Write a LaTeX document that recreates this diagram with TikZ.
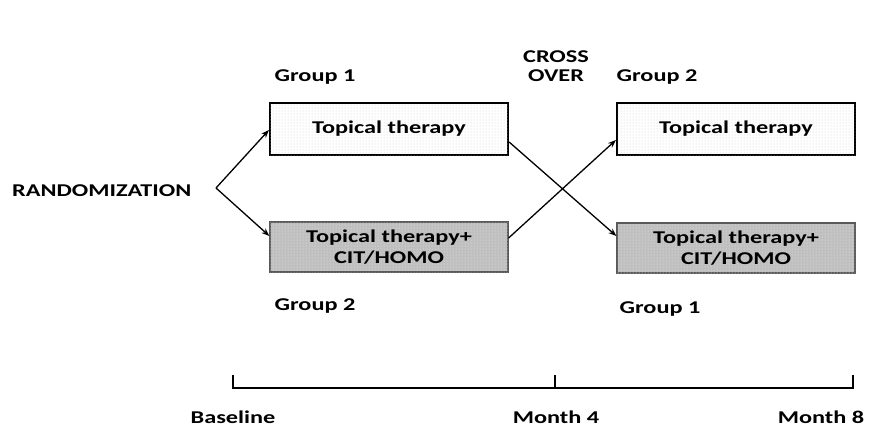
\documentclass[tikz,border=0pt]{standalone}
\usepackage{fontspec}
\setmainfont{Carlito}
\newfontfamily\widefont[FakeStretch=1.35]{Carlito}
\usetikzlibrary{arrows.meta,patterns}
\begin{document}
\begin{tikzpicture}[x=1pt,y=-1pt,
  lbl/.style={font=\widefont\bfseries\fontsize{18}{21}\selectfont, inner sep=0pt},
  whitebox/.style={draw=black, line width=2.2pt, fill=white, minimum width=238pt, minimum height=52pt,
     postaction={pattern=dots, pattern color=gray!40}},
  graybox/.style={draw=gray!70!black, line width=1.2pt, fill=gray!50, minimum width=238pt, minimum height=50pt,
     postaction={pattern=dots, pattern color=white!85!gray}},
  arr/.style={-{Stealth[length=8pt,width=6pt]}, line width=1.3pt}
]
\useasboundingbox (0,0) rectangle (896,429);
\node[whitebox] (b1) at (389,129) {};
\node[lbl] (t1a) at (b1) {Topical therapy};
\node[graybox] (b2) at (389,247) {};
\node[lbl, align=center] (t2a) at (b2) {Topical therapy+\\CIT/HOMO};
\node[whitebox] (b3) at (736,129) {};
\node[lbl] (t3a) at (b3) {Topical therapy};
\node[graybox] (b4) at (736,248) {};
\node[lbl, align=center] (t4a) at (b4) {Topical therapy+\\CIT/HOMO};

\node[lbl, anchor=west] (rand) at (12,191) {RANDOMIZATION};
\coordinate (r) at (216,188);
\draw[arr] (r) -- (b1.west |- 0,130);
\draw[arr] (r) -- (b2.west |- 0,236);
\draw[arr] (b1.east |- 0,142) -- (b4.west |- 0,236);
\draw[arr] (b2.east |- 0,238) -- (b3.west |- 0,140);

\node[lbl] (g1a) at (315,77) {Group 1};
\node[lbl] (g2a) at (657,77) {Group 2};
\node[lbl] (g2b) at (315,306) {Group 2};
\node[lbl] (g1b) at (660,309) {Group 1};
\node[lbl, align=center, font=\widefont\bfseries\fontsize{18}{19.5}\selectfont] (co) at (556,66) {CROSS\\OVER};

\coordinate (k0) at (233,375);
\coordinate (k1) at (555,375);
\coordinate (k2) at (853,375);
\draw[line width=1.3pt] (k0) -- ++(0,13) -- (k2 |- 0,388) -- (k2);
\draw[line width=1.3pt] (k1) -- ++(0,13);
\node[lbl] (base) at (233,417) {Baseline};
\node[lbl] (m4) at (556,417) {Month 4};
\node[lbl] (m8) at (821,417) {Month 8};
\end{tikzpicture}
\end{document}
